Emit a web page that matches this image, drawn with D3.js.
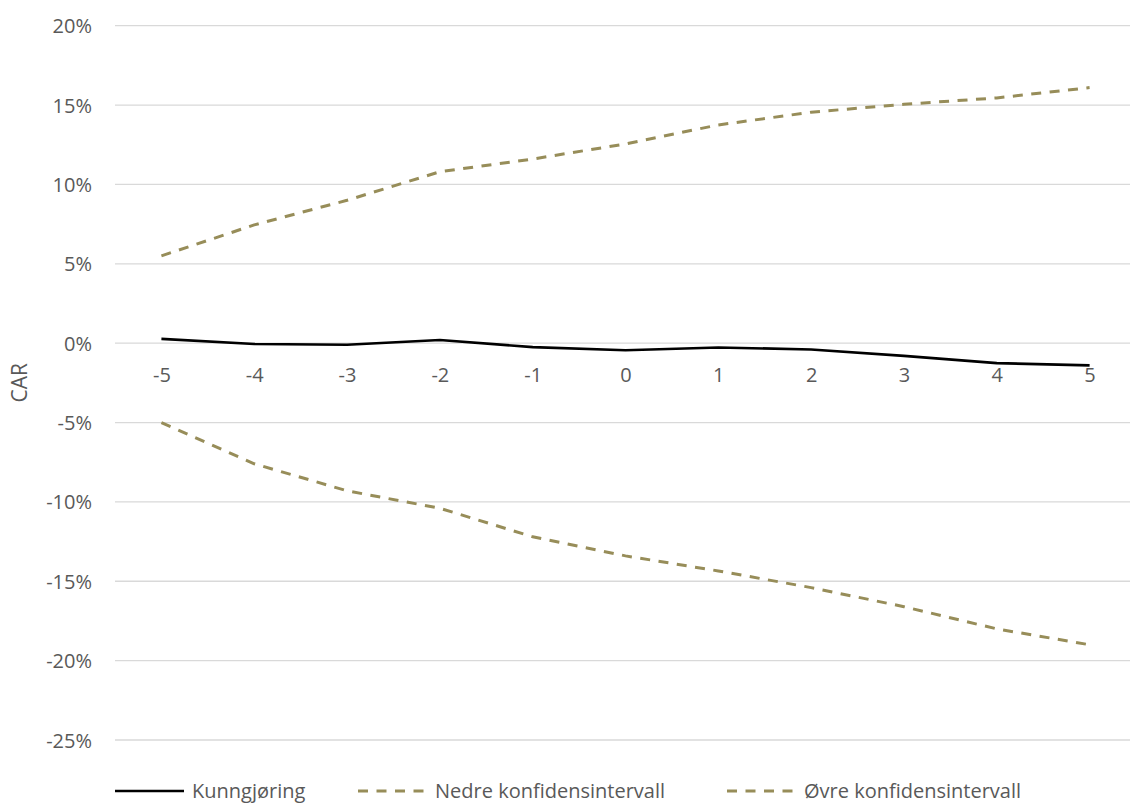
<!DOCTYPE html>
<html><head><meta charset="utf-8">
<script src="https://cdn.jsdelivr.net/npm/d3@7"></script>
<style>body{margin:0;background:#fff;} svg{display:block;font-family:"Open Sans",sans-serif;}</style>
</head><body><div id="chart"></div>
<script>
const categories = ["-5","-4","-3","-2","-1","0","1","2","3","4","5"];
const kunngjoring = [0.27,-0.05,-0.1,0.2,-0.25,-0.45,-0.27,-0.4,-0.8,-1.26,-1.4];
const ovre = [5.5,7.45,9.0,10.8,11.6,12.55,13.75,14.55,15.05,15.45,16.1];
const nedre = [-5.0,-7.6,-9.3,-10.4,-12.2,-13.4,-14.35,-15.4,-16.6,-18.0,-19.0];
const yTicks = [-25,-20,-15,-10,-5,0,5,10,15,20];
const seriesNames = ["Kunngjøring","Nedre konfidensintervall","Øvre konfidensintervall"];

const W=1130,H=804;
const svg=d3.select("#chart").append("svg").attr("width",W).attr("height",H);
const plot={l:115,r:1136,t:25.7,b:740};
const x=d3.scalePoint().domain(categories).range([plot.l,plot.r]).padding(0.5);
const y=d3.scaleLinear().domain([-25,20]).range([plot.b,plot.t]);
const txt="#595959", grid="#d9d9d9", olive="#978D59";
const fs="20px";

// gridlines
svg.append("g").selectAll("line").data(yTicks).join("line")
  .attr("x1",plot.l).attr("x2",W).attr("y1",d=>y(d)).attr("y2",d=>y(d))
  .attr("stroke",grid).attr("stroke-width",1.3);

// y axis labels
const yAxis=d3.axisLeft(y).tickValues(yTicks).tickFormat(d=>d+"%").tickSize(0).tickPadding(0);
const ya=svg.append("g").attr("transform",`translate(${plot.l-23},0)`).call(yAxis);
ya.select(".domain").remove();
ya.selectAll("text").attr("fill",txt).style("font-size",fs).style("font-family","'Open Sans',sans-serif").attr("dy","0.35em");

// x axis labels near y=0 line
const xAxis=d3.axisBottom(x).tickSize(0).tickPadding(0);
const xa=svg.append("g").attr("transform",`translate(0,${y(0)+20})`).call(xAxis);
xa.select(".domain").remove();
xa.selectAll("text").attr("fill",txt).style("font-size",fs).style("font-family","'Open Sans',sans-serif").attr("dy","0.35em").attr("y",12);

// y title
svg.append("text").attr("transform",`translate(27,${(plot.t+plot.b)/2}) rotate(-90)`)
  .attr("text-anchor","middle").attr("fill",txt).style("font-size","21px").text("CAR");

const line=d3.line().x((d,i)=>x(categories[i])).y(d=>y(d));
svg.append("path").datum(nedre).attr("d",line).attr("fill","none").attr("stroke",olive).attr("stroke-width",3).attr("stroke-dasharray","10,8.5");
svg.append("path").datum(ovre).attr("d",line).attr("fill","none").attr("stroke",olive).attr("stroke-width",3).attr("stroke-dasharray","10,8.5");
svg.append("path").datum(kunngjoring).attr("d",line).attr("fill","none").attr("stroke","#000").attr("stroke-width",2.6);

// legend
const leg=[{n:seriesNames[0],x:115,c:"#000",dash:null},{n:seriesNames[1],x:358,c:olive,dash:"10,8.5"},{n:seriesNames[2],x:727,c:olive,dash:"10,8.5"}];
const ly=791;
const lg=svg.append("g").selectAll("g").data(leg).join("g");
lg.append("line").attr("x1",d=>d.x).attr("x2",d=>d.x+69).attr("y1",ly).attr("y2",ly)
  .attr("stroke",d=>d.c).attr("stroke-width",d=>d.dash?3:2.6).attr("stroke-dasharray",d=>d.dash);
lg.append("text").attr("x",d=>d.x+77).attr("y",ly).attr("dy","0.33em").attr("fill",txt).style("font-size",fs).text(d=>d.n);
</script></body></html>
